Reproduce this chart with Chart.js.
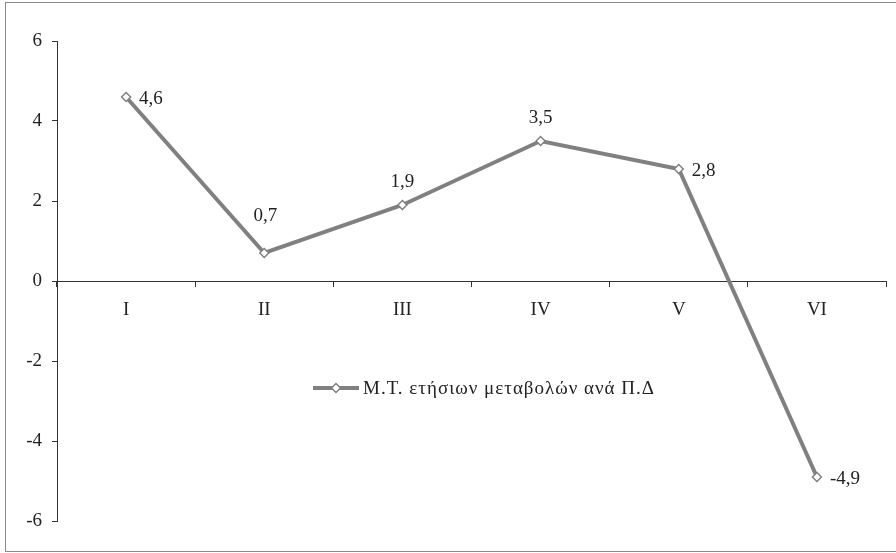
<!DOCTYPE html>
<html>
<head>
<meta charset="utf-8">
<script src="https://cdn.jsdelivr.net/npm/chart.js@4"></script>
<style>
  html, body { margin: 0; padding: 0; background: #fff; }
  #wrap { width: 896px; height: 553px; }
</style>
</head>
<body>
<div id="wrap"><canvas id="myChart" width="896" height="553"></canvas></div>
<script>
const ctx = document.getElementById('myChart');

const categories = ['I', 'II', 'III', 'IV', 'V', 'VI'];
const values = [4.6, 0.7, 1.9, 3.5, 2.8, -4.9];
const seriesName = 'Μ.Τ. ετήσιων μεταβολών ανά Π.Δ';
const yTicks = [-6, -4, -2, 0, 2, 4, 6];

// where each value label sits next to its point
const labelSide = ['right', 'top2', 'top', 'top', 'right', 'right'];

const FONT = '"Liberation Serif", "DejaVu Serif", serif';
const grey = '#808080';
const axisColor = '#333';

const frame = {
  id: 'frame',
  beforeDraw(chart) {
    const c = chart.ctx;
    c.save();
    c.fillStyle = '#fff';
    c.fillRect(0, 0, chart.width, chart.height);
    c.strokeStyle = '#8a8a8a';
    c.lineWidth = 1;
    c.strokeRect(5.5, 2.5, chart.width + 10, chart.height - 4);
    c.restore();
  }
};

const valueLabels = {
  id: 'valueLabels',
  afterDatasetsDraw(chart) {
    const c = chart.ctx;
    const meta = chart.getDatasetMeta(0);
    c.save();
    c.font = '19px ' + FONT;
    c.fillStyle = '#222';
    meta.data.forEach((pt, i) => {
      const txt = values[i].toString().replace('.', ',');
      const side = labelSide[i];
      if (side === 'right') {
        c.textAlign = 'left';
        c.textBaseline = 'middle';
        c.fillText(txt, pt.x + 13, pt.y + 2);
      } else if (side === 'top2') {
        c.textAlign = 'center';
        c.textBaseline = 'middle';
        c.fillText(txt, pt.x + 1, pt.y - 37);
      } else {
        c.textAlign = 'center';
        c.textBaseline = 'middle';
        c.fillText(txt, pt.x, pt.y - 23);
      }
    });
    c.restore();
  }
};

const midLegend = {
  id: 'midLegend',
  afterDraw(chart) {
    const c = chart.ctx;
    const ds = chart.data.datasets[0];
    const x0 = 313, x1 = 359, y = 388;
    c.save();
    c.strokeStyle = grey;
    c.lineWidth = 4;
    c.beginPath();
    c.moveTo(x0, y);
    c.lineTo(x1, y);
    c.stroke();
    const mx = (x0 + x1) / 2, r = 4.5;
    c.beginPath();
    c.moveTo(mx, y - r);
    c.lineTo(mx + r, y);
    c.lineTo(mx, y + r);
    c.lineTo(mx - r, y);
    c.closePath();
    c.fillStyle = '#fff';
    c.fill();
    c.lineWidth = 1.5;
    c.stroke();
    c.font = '19px ' + FONT;
    c.letterSpacing = '1px';
    c.fillStyle = '#222';
    c.textAlign = 'left';
    c.textBaseline = 'middle';
    c.fillText(ds.label, 363, y + 1);
    c.restore();
  }
};

new Chart(ctx, {
  type: 'line',
  data: {
    labels: categories,
    datasets: [{
      label: seriesName,
      data: values,
      borderColor: grey,
      borderWidth: 4,
      pointStyle: 'rectRot',
      pointRadius: 4.5,
      pointBorderWidth: 1.5,
      pointBackgroundColor: '#fff',
      pointBorderColor: grey,
      tension: 0,
      clip: false
    }]
  },
  plugins: [frame, valueLabels, midLegend],
  options: {
    responsive: false,
    animation: false,
    events: [],
    layout: {
      padding: { left: 0, right: 10, top: 41, bottom: 32 }
    },
    scales: {
      y: {
        min: -6,
        max: 6,
        afterFit: (scale) => { scale.width = 57; },
        afterBuildTicks: (scale) => { scale.ticks = yTicks.map(v => ({ value: v })); },
        border: { color: axisColor, width: 1 },
        grid: { drawOnChartArea: false, drawTicks: true, tickLength: 5, color: axisColor },
        ticks: {
          padding: 10,
          color: '#222',
          font: { family: FONT, size: 19 },
          callback: (v) => v.toString()
        }
      },
      x: {
        position: { y: 0 },
        offset: true,
        border: { color: axisColor, width: 1 },
        grid: { offset: true, drawOnChartArea: false, drawTicks: true, tickLength: 5, color: axisColor },
        ticks: {
          padding: 13,
          color: '#222',
          maxRotation: 0,
          font: { family: FONT, size: 19 }
        }
      }
    },
    plugins: {
      legend: { display: false },
      tooltip: { enabled: false }
    }
  }
});
</script>
</body>
</html>
